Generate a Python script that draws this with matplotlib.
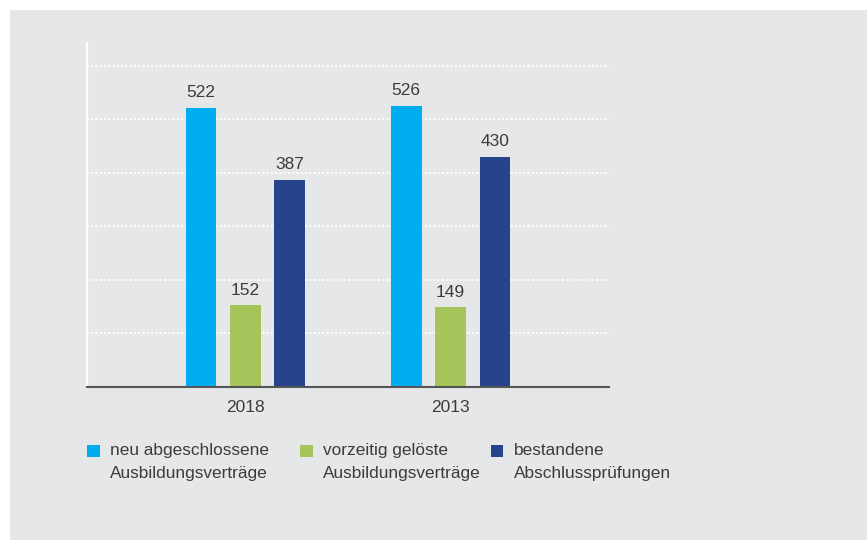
import matplotlib.pyplot as plt
from matplotlib.patches import Rectangle

years = ["2018", "2013"]
neu = [522, 526]
geloest = [152, 149]
bestanden = [387, 430]
series_labels = ["neu abgeschlossene\nAusbildungsverträge",
                 "vorzeitig gelöste\nAusbildungsverträge",
                 "bestandene\nAbschlussprüfungen"]
colors = ["#00aeef", "#a5c45a", "#25448b"]

plt.rcParams['font.family'] = ['Liberation Sans', 'DejaVu Sans']
bg = "#e6e7e9"
txt = "#3c3c3c"

fig = plt.figure(figsize=(8.67, 5.4), dpi=100, facecolor="white")
fig.patches.append(Rectangle((10 / 867, 0), 1, 1 - 10 / 540, transform=fig.transFigure,
                             facecolor=bg, edgecolor="none", zorder=-10))

W, H = 867, 540
left, right, bottom, top = 87, 609, 386.7, 43
ax = fig.add_axes([left / W, 1 - bottom / H, (right - left) / W, (bottom - top) / H])
ax.set_facecolor(bg)

width = 0.151
offset = 0.217
x = list(range(len(years)))
for i, (vals, c) in enumerate(zip([neu, geloest, bestanden], colors)):
    xs = [xi + (i - 1) * offset for xi in x]
    ax.bar(xs, vals, width=width, color=c, zorder=3)
    for xv, v in zip(xs, vals):
        ax.text(xv, v + 10.5 / 0.534, str(v), ha="center", va="baseline",
                fontsize=12.5, color=txt)

ax.set_xlim(-0.773, 1.773)
ax.set_ylim(0, 643)
ax.set_yticks(range(100, 700, 100))
ax.yaxis.grid(True, color="white", linestyle=(0, (1, 1.2)), linewidth=1.4, zorder=1)
ax.tick_params(left=False, labelleft=False, bottom=False)
ax.set_xticks(x)
ax.set_xticklabels(years, fontsize=12.5, color=txt)
ax.tick_params(axis="x", pad=6)

for s in ["top", "right"]:
    ax.spines[s].set_visible(False)
ax.spines["left"].set_color("white")
ax.spines["left"].set_linewidth(1.5)
ax.spines["bottom"].set_color("#555555")
ax.spines["bottom"].set_linewidth(1.5)
ax.spines["bottom"].set_zorder(4)

# legend drawn by hand as squares + two-line text
leg_x = [87, 300, 491]
for lx, lab, c in zip(leg_x, series_labels, colors):
    fig.patches.append(Rectangle((lx / W, 1 - 457 / H), 12.5 / W, 12 / H,
                                 transform=fig.transFigure, facecolor=c,
                                 edgecolor="none"))
    fig.text((lx + 23) / W, 1 - 443 / H, lab, ha="left", va="top",
             fontsize=12.4, color=txt, linespacing=1.7)

fig.savefig("out.png", dpi=100, facecolor=fig.get_facecolor())
